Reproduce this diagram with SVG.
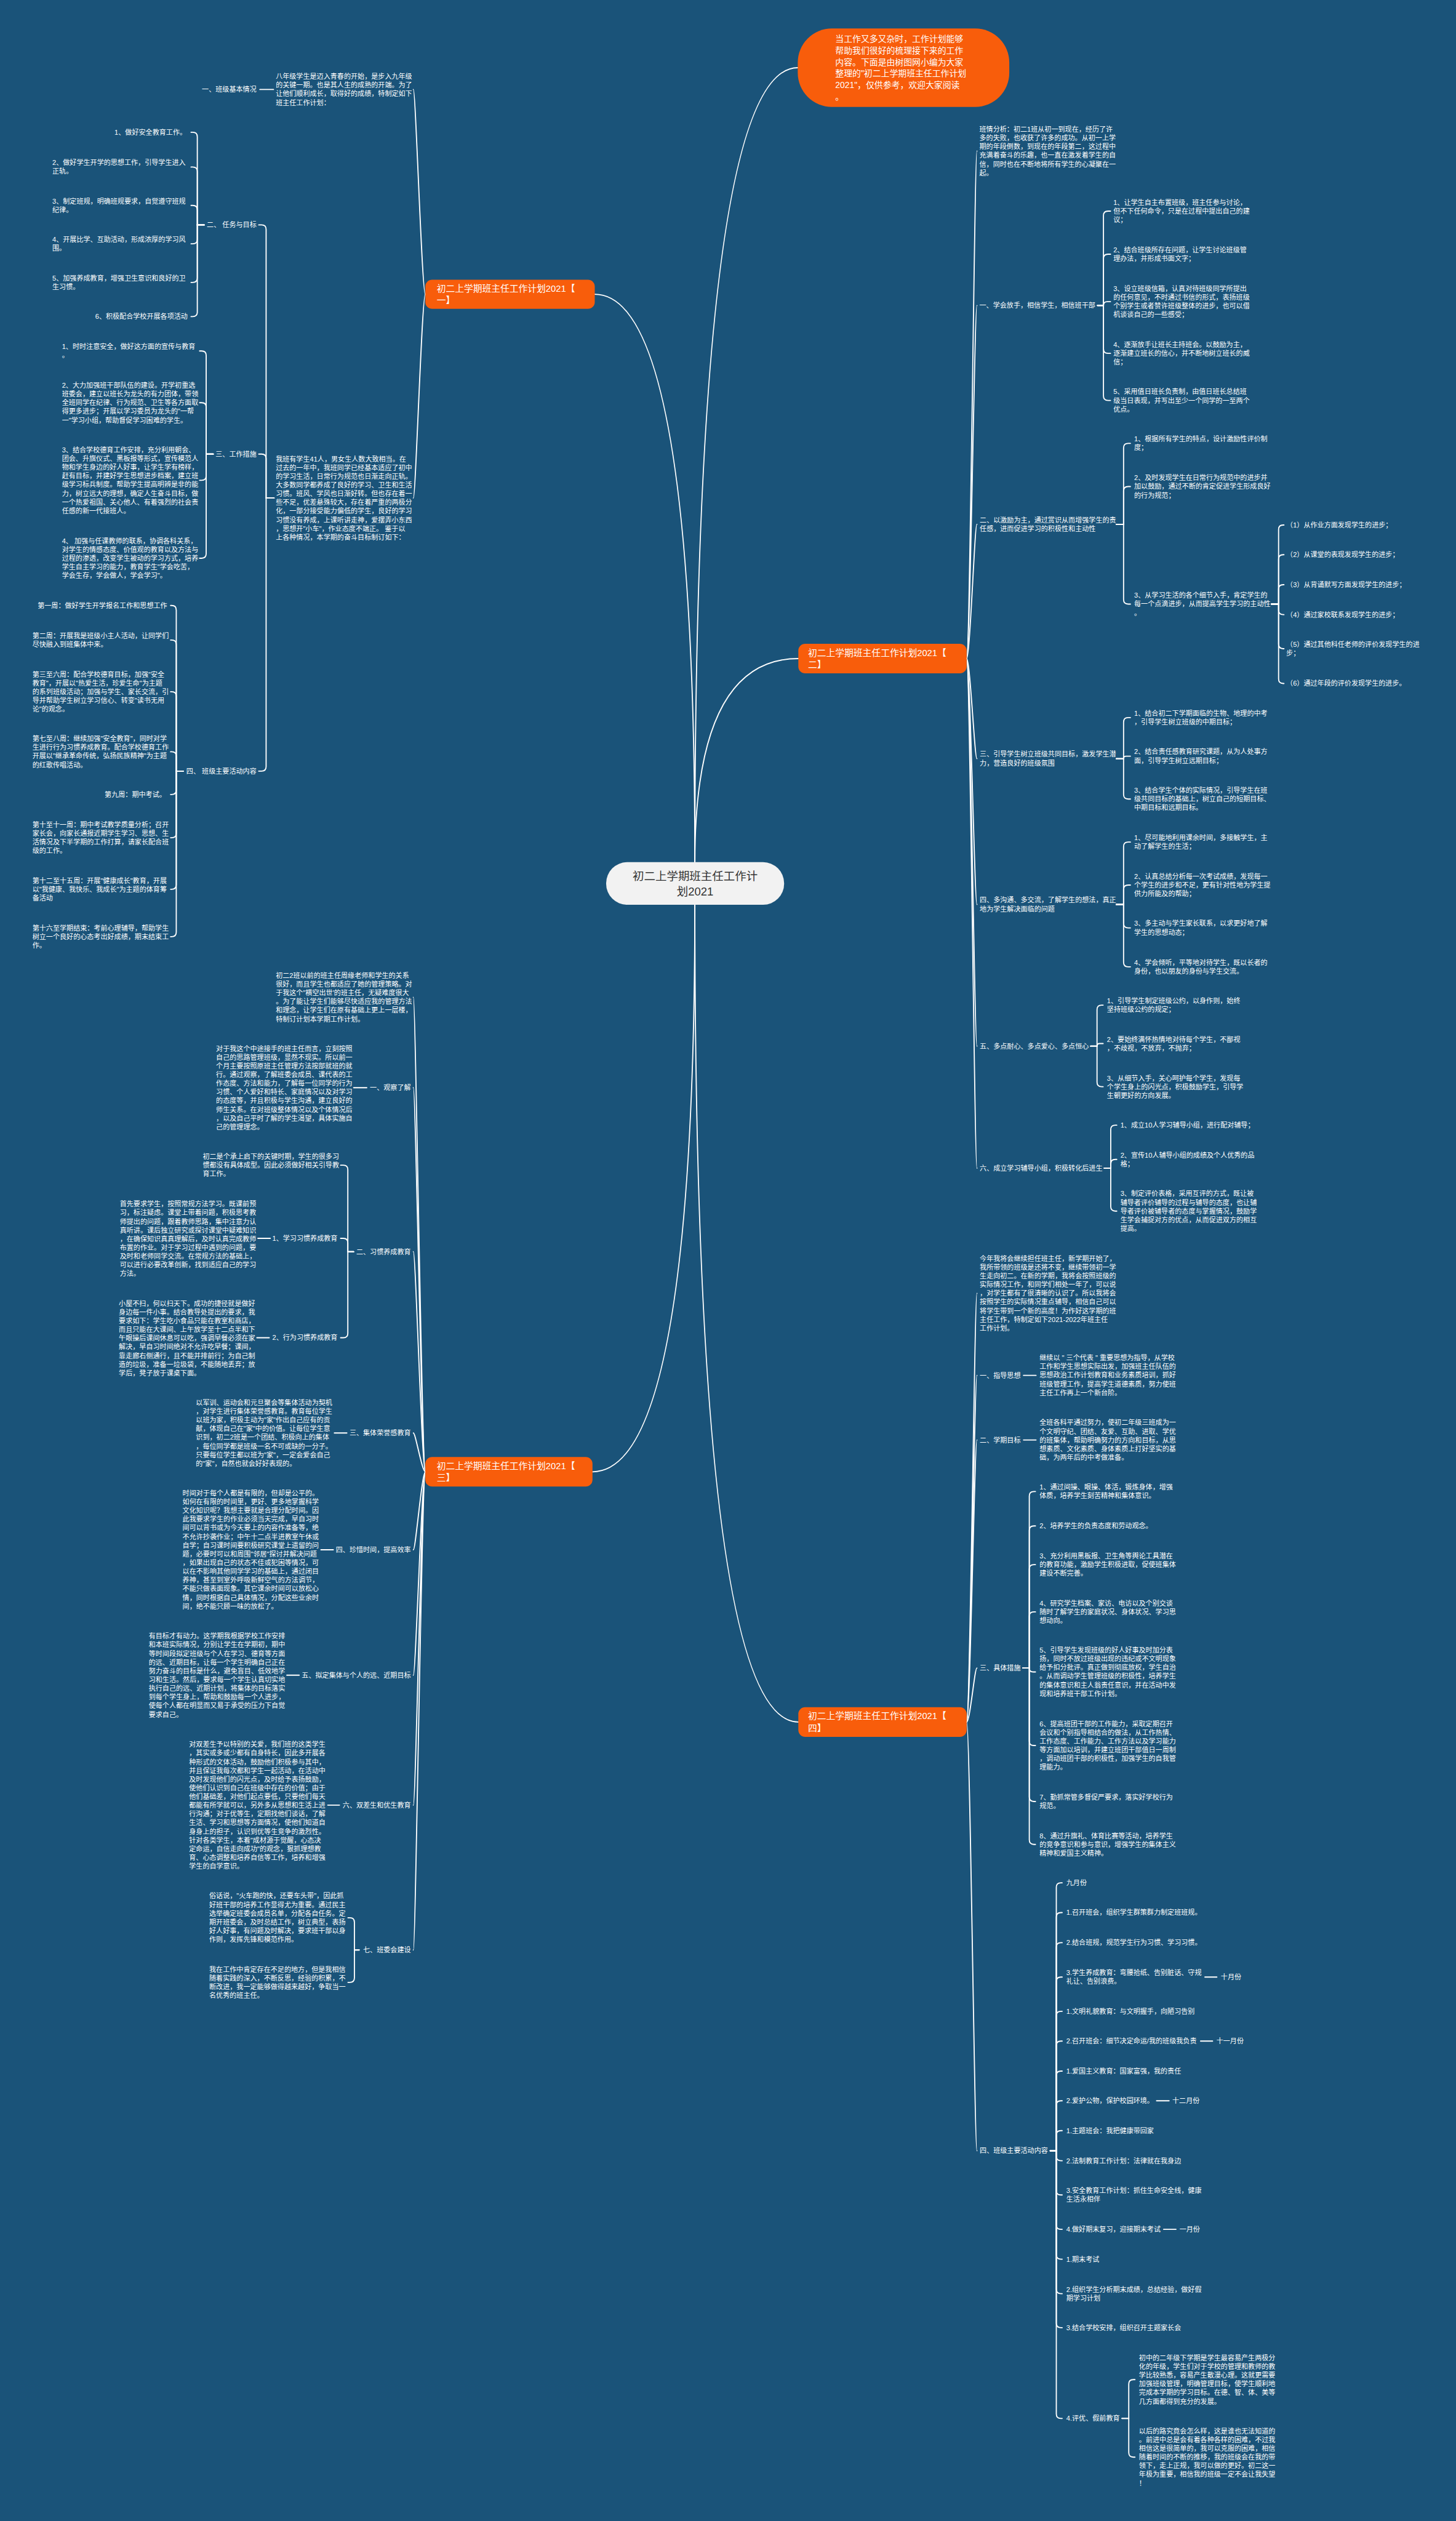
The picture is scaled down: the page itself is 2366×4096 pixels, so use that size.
<svg xmlns="http://www.w3.org/2000/svg" width="2366" height="4096" viewBox="0 0 2366 4096">
<style>
.t{font-family:"Liberation Sans","Noto Sans CJK SC",sans-serif;font-size:12px;fill:#fff}
.e{text-anchor:end}
.bn{font-size:16px}
.it{font-size:15px}
.cn{font-family:"Liberation Sans","Noto Sans CJK SC",sans-serif;font-size:20px;fill:#333;text-anchor:middle}
.l{fill:none;stroke:#fff;stroke-width:2;stroke-linecap:round}
.or{fill:#f85d0b}
</style>
<rect width="2366" height="4096" fill="#1a5379"/>
<g transform="scale(0.924)">
<g id="connectors">
<path class="l" d="M1222 1516Q1222 119 1403 119"/>
<path class="l" d="M1222 1516Q1222 517.5 1046 517.5"/>
<path class="l" d="M1222 1516Q1222 1158 1404 1158"/>
<path class="l" d="M1222 1591Q1222 2588 1042 2588"/>
<path class="l" d="M1222 1591Q1222 3028 1404 3028"/>
<!-- branch 1 -->
<path class="l" d="M748 517.5C742 517.5 731 157.4 727 157.4"/>
<path class="l" d="M748 517.5C742 517.5 731 875.7 727 875.7"/>
<path class="l" d="M481 157.4H457"/>
<path class="l" d="M482 875.7H468V403.5Q468 395.5 460 395.5H455"/>
<path class="l" d="M482 875.7H468V806.4Q468 798.4 460 798.4H455"/>
<path class="l" d="M482 875.7H468V1348Q468 1356 460 1356H455"/>
<path class="l" d="M359 395.5H347V240.6Q347 232.6 339 232.6H336"/>
<path class="l" d="M359 395.5H347V301.7Q347 293.7 339 293.7H336"/>
<path class="l" d="M359 395.5H347V369.2Q347 361.2 339 361.2H336"/>
<path class="l" d="M359 395.5H347V420.7Q347 428.7 339 428.7H336"/>
<path class="l" d="M359 395.5H347V488.7Q347 496.7 339 496.7H336"/>
<path class="l" d="M359 395.5H347V548.7Q347 556.7 339 556.7H336"/>
<path class="l" d="M375 798.4H362.6V625.2Q362.6 617.2 354.6 617.2H351"/>
<path class="l" d="M375 798.4H362.6V716.1Q362.6 708.1 354.6 708.1H351"/>
<path class="l" d="M375 798.4H362.6V836.6Q362.6 844.6 354.6 844.6H351"/>
<path class="l" d="M375 798.4H362.6V973.6Q362.6 981.6 354.6 981.6H351"/>
<path class="l" d="M322 1356H310V1072.7Q310 1064.7 302 1064.7H300"/>
<path class="l" d="M322 1356H310V1133.4Q310 1125.4 302 1125.4H300"/>
<path class="l" d="M322 1356H310V1224.3Q310 1216.3 302 1216.3H300"/>
<path class="l" d="M322 1356H310V1329.9Q310 1321.9 302 1321.9H300"/>
<path class="l" d="M322 1356H310V1389Q310 1397 302 1397H300"/>
<path class="l" d="M322 1356H310V1465Q310 1473 302 1473H300"/>
<path class="l" d="M322 1356H310V1555.7Q310 1563.7 302 1563.7H300"/>
<path class="l" d="M322 1356H310V1639.1Q310 1647.1 302 1647.1H300"/>
<!-- branch 3 -->
<path class="l" d="M748 2588C742 2588 731 1753.6 727 1753.6"/>
<path class="l" d="M748 2588C742 2588 731 1912.6 727 1912.6"/>
<path class="l" d="M748 2588C742 2588 731 2200.9 727 2200.9"/>
<path class="l" d="M748 2588C742 2588 731 2519.8 727 2519.8"/>
<path class="l" d="M748 2588C742 2588 731 2725.1 727 2725.1"/>
<path class="l" d="M748 2588C742 2588 731 2945.6 727 2945.6"/>
<path class="l" d="M748 2588C742 2588 731 3174.1 727 3174.1"/>
<path class="l" d="M748 2588C742 2588 731 3428.8 727 3428.8"/>
<path class="l" d="M645 1912.6H622"/>
<path class="l" d="M622 2200.9H611.7V2056.9Q611.7 2048.9 603.7 2048.9H599"/>
<path class="l" d="M622 2200.9H611.7V2185.5Q611.7 2177.5 603.7 2177.5H599"/>
<path class="l" d="M622 2200.9H611.7V2344.3Q611.7 2352.3 603.7 2352.3H599"/>
<path class="l" d="M475.4 2177.5H453.5"/>
<path class="l" d="M473.5 2352.3H451.7"/>
<path class="l" d="M610 2519.8H588"/>
<path class="l" d="M586.2 2725.1H564.4"/>
<path class="l" d="M526.2 2945.6H504.4"/>
<path class="l" d="M597 3174.1H576.4"/>
<path class="l" d="M631.7 3428.8H623.3V3380.2Q623.3 3372.2 615.3 3372.2H612"/>
<path class="l" d="M631.7 3428.8H623.3V3477.8Q623.3 3485.8 615.3 3485.8H612"/>
<!-- branch 2 -->
<path class="l" d="M1700 1158C1706 1158 1714 265.6 1718 265.6"/>
<path class="l" d="M1700 1158C1706 1158 1714 537.2 1718 537.2"/>
<path class="l" d="M1700 1158C1706 1158 1714 922 1718 922"/>
<path class="l" d="M1700 1158C1706 1158 1714 1334 1718 1334"/>
<path class="l" d="M1700 1158C1706 1158 1714 1590.4 1718 1590.4"/>
<path class="l" d="M1700 1158C1706 1158 1714 1839.5 1718 1839.5"/>
<path class="l" d="M1700 1158C1706 1158 1714 2054.1 1718 2054.1"/>
<path class="l" d="M1930 537.2H1940.6V379.2Q1940.6 371.2 1948.6 371.2H1953"/>
<path class="l" d="M1930 537.2H1940.6V455Q1940.6 447 1948.6 447H1953"/>
<path class="l" d="M1930 537.2H1940.6Q1940.6 530.4 1947.4 530.4H1953"/>
<path class="l" d="M1930 537.2H1940.6V613.4Q1940.6 621.4 1948.6 621.4H1953"/>
<path class="l" d="M1930 537.2H1940.6V696.1Q1940.6 704.1 1948.6 704.1H1953"/>
<path class="l" d="M1963 922H1976V787.6Q1976 779.6 1984 779.6H1988"/>
<path class="l" d="M1963 922H1976V863.5Q1976 855.5 1984 855.5H1988"/>
<path class="l" d="M1963 922H1976V1054.2Q1976 1062.2 1984 1062.2H1988"/>
<path class="l" d="M2236 1062.2H2248.6V931.2Q2248.6 923.2 2256.6 923.2H2258"/>
<path class="l" d="M2236 1062.2H2248.6V983.4Q2248.6 975.4 2256.6 975.4H2258"/>
<path class="l" d="M2236 1062.2H2248.6V1036.1Q2248.6 1028.1 2256.6 1028.1H2258"/>
<path class="l" d="M2236 1062.2H2248.6V1072.8Q2248.6 1080.8 2256.6 1080.8H2258"/>
<path class="l" d="M2236 1062.2H2248.6V1132.7Q2248.6 1140.7 2256.6 1140.7H2258"/>
<path class="l" d="M2236 1062.2H2248.6V1193.8Q2248.6 1201.8 2256.6 1201.8H2258"/>
<path class="l" d="M1963 1334H1976V1269.7Q1976 1261.7 1984 1261.7H1988"/>
<path class="l" d="M1963 1334H1976Q1976 1329.6 1980.4 1329.6H1988"/>
<path class="l" d="M1963 1334H1976V1397Q1976 1405 1984 1405H1988"/>
<path class="l" d="M1963 1590.4H1976V1488.7Q1976 1480.7 1984 1480.7H1988"/>
<path class="l" d="M1963 1590.4H1976V1564.3Q1976 1556.3 1984 1556.3H1988"/>
<path class="l" d="M1963 1590.4H1976V1623.6Q1976 1631.6 1984 1631.6H1988"/>
<path class="l" d="M1963 1590.4H1976V1692Q1976 1700 1984 1700H1988"/>
<path class="l" d="M1918 1839.5H1929.3V1775.4Q1929.3 1767.4 1937.3 1767.4H1940"/>
<path class="l" d="M1918 1839.5H1929.3Q1929.3 1835 1933.8 1835H1940"/>
<path class="l" d="M1918 1839.5H1929.3V1902.9Q1929.3 1910.9 1937.3 1910.9H1940"/>
<path class="l" d="M1942 2054.1H1953.4V1986.5Q1953.4 1978.5 1961.4 1978.5H1964"/>
<path class="l" d="M1942 2054.1H1953.4V2046.7Q1953.4 2038.7 1961.4 2038.7H1964"/>
<path class="l" d="M1942 2054.1H1953.4V2121.6Q1953.4 2129.6 1961.4 2129.6H1964"/>
<!-- branch 4 -->
<path class="l" d="M1700 3028C1706 3028 1714 2274.2 1718 2274.2"/>
<path class="l" d="M1700 3028C1706 3028 1714 2418.5 1718 2418.5"/>
<path class="l" d="M1700 3028C1706 3028 1714 2532 1718 2532"/>
<path class="l" d="M1700 3028C1706 3028 1714 2933.1 1718 2933.1"/>
<path class="l" d="M1700 3028C1706 3028 1714 3781.8 1718 3781.8"/>
<path class="l" d="M1800 2418.5H1822"/>
<path class="l" d="M1800 2532H1822"/>
<path class="l" d="M1799 2933.1H1810.2V2630.7Q1810.2 2622.7 1818.2 2622.7H1821"/>
<path class="l" d="M1799 2933.1H1810.2V2691.2Q1810.2 2683.2 1818.2 2683.2H1821"/>
<path class="l" d="M1799 2933.1H1810.2V2759.2Q1810.2 2751.2 1818.2 2751.2H1821"/>
<path class="l" d="M1799 2933.1H1810.2V2842.3Q1810.2 2834.3 1818.2 2834.3H1821"/>
<path class="l" d="M1799 2933.1H1810.2Q1810.2 2939.9 1817 2939.9H1821"/>
<path class="l" d="M1799 2933.1H1810.2V3061.3Q1810.2 3069.3 1818.2 3069.3H1821"/>
<path class="l" d="M1799 2933.1H1810.2V3159.7Q1810.2 3167.7 1818.2 3167.7H1821"/>
<path class="l" d="M1799 2933.1H1810.2V3235.2Q1810.2 3243.2 1818.2 3243.2H1821"/>
<path class="l" d="M1847 3781.8H1857.7V3318.7Q1857.7 3310.7 1865.7 3310.7H1868"/>
<path class="l" d="M1847 3781.8H1857.7V3371.1Q1857.7 3363.1 1865.7 3363.1H1868"/>
<path class="l" d="M1847 3781.8H1857.7V3424Q1857.7 3416 1865.7 3416H1868"/>
<path class="l" d="M1847 3781.8H1857.7V3484.5Q1857.7 3476.5 1865.7 3476.5H1868"/>
<path class="l" d="M1847 3781.8H1857.7V3544.6Q1857.7 3536.6 1865.7 3536.6H1868"/>
<path class="l" d="M1847 3781.8H1857.7V3597Q1857.7 3589 1865.7 3589H1868"/>
<path class="l" d="M1847 3781.8H1857.7V3649.8Q1857.7 3641.8 1865.7 3641.8H1868"/>
<path class="l" d="M1847 3781.8H1857.7V3702Q1857.7 3694 1865.7 3694H1868"/>
<path class="l" d="M1847 3781.8H1857.7V3754.5Q1857.7 3746.5 1865.7 3746.5H1868"/>
<path class="l" d="M1847 3781.8H1857.7V3791.4Q1857.7 3799.4 1865.7 3799.4H1868"/>
<path class="l" d="M1847 3781.8H1857.7V3851.6Q1857.7 3859.6 1865.7 3859.6H1868"/>
<path class="l" d="M1847 3781.8H1857.7V3912Q1857.7 3920 1865.7 3920H1868"/>
<path class="l" d="M1847 3781.8H1857.7V3964.5Q1857.7 3972.5 1865.7 3972.5H1868"/>
<path class="l" d="M1847 3781.8H1857.7V4025.2Q1857.7 4033.2 1865.7 4033.2H1868"/>
<path class="l" d="M1847 3781.8H1857.7V4085Q1857.7 4093 1865.7 4093H1868"/>
<path class="l" d="M1847 3781.8H1857.7V4244.5Q1857.7 4252.5 1865.7 4252.5H1868"/>
<path class="l" d="M2119 3476.5H2140"/>
<path class="l" d="M2111.4 3589H2132.5"/>
<path class="l" d="M2034 3694H2056"/>
<path class="l" d="M2046.4 3920H2068.2"/>
<path class="l" d="M1973 4252.5H1985.1V4192.3Q1985.1 4184.3 1993.1 4184.3H1996"/>
<path class="l" d="M1973 4252.5H1985.1V4312.6Q1985.1 4320.6 1993.1 4320.6H1996"/>
</g>

<g id="center">
<rect x="1066" y="1516" width="313" height="75" rx="37" fill="#f2f2f2"/>
<text class="cn" x="1222.5" y="1548">初二上学期班主任工作计</text>
<text class="cn" x="1222.5" y="1575">划2021</text>
</g>

<g id="intro">
<rect class="or" x="1403" y="50" width="372" height="138" rx="60"/>
<text class="t it" x="1469" y="73.8"><tspan x="1469">当工作又多又杂时，工作计划能够</tspan><tspan x="1469" dy="20.2">帮助我们很好的梳理接下来的工作</tspan><tspan x="1469" dy="20.2">内容。下面是由树图网小编为大家</tspan><tspan x="1469" dy="20.2">整理的"初二上学期班主任工作计划</tspan><tspan x="1469" dy="20.2">2021"，仅供参考，欢迎大家阅读</tspan><tspan x="1469" dy="20.2">。</tspan></text>
</g>

<!-- ===== Branch 1 ===== -->
<g id="b1">
<rect class="or" x="748" y="492" width="298" height="51" rx="12"/>
<text class="t bn" x="768" y="512.7"><tspan x="768">初二上学期班主任工作计划2021【</tspan><tspan x="768" dy="21">一】</tspan></text>
</g>
<g id="b1-a">
<text class="t" x="485" y="138.7"><tspan x="485">八年级学生是迈入青春的开始，是步入九年级</tspan><tspan x="485" dy="15.3">的关键一期。也是其人生的成熟的开端。为了</tspan><tspan x="485" dy="15.3">让他们顺利成长，取得好的成绩，特制定如下</tspan><tspan x="485" dy="15.3">班主任工作计划：</tspan></text>
</g>
<g id="b1-a1"><text class="t e" x="451" y="161.7">一、班级基本情况</text></g>
<g id="b1-b">
<text class="t" x="485" y="811.3"><tspan x="485">我班有学生41人，男女生人数大致相当。在</tspan><tspan x="485" dy="15.3">过去的一年中，我班同学已经基本适应了初中</tspan><tspan x="485" dy="15.3">的学习生活，日常行为规范也日渐走向正轨。</tspan><tspan x="485" dy="15.3">大多数同学都养成了良好的学习、卫生和生活</tspan><tspan x="485" dy="15.3">习惯。班风、学风也日渐好转。但也存在着一</tspan><tspan x="485" dy="15.3">些不足，优差悬殊较大，存在着严重的两极分</tspan><tspan x="485" dy="15.3">化，一部分接受能力偏低的学生，良好的学习</tspan><tspan x="485" dy="15.3">习惯没有养成，上课听讲走神，爱摆弄小东西</tspan><tspan x="485" dy="15.3">，思想开"小车"，作业态度不端正。 鉴于以</tspan><tspan x="485" dy="15.3">上各种情况，本学期的奋斗目标制订如下：</tspan></text>
</g>
<g id="b1-b1"><text class="t e" x="451" y="399.8">二、 任务与目标</text></g>
<g id="b1-b1-1"><text class="t e" x="328" y="236.9">1、做好安全教育工作。</text></g>
<g id="b1-b1-2"><text class="t" x="92" y="290.3"><tspan x="92">2、做好学生开学的思想工作，引导学生进入</tspan><tspan x="92" dy="15.3">正轨。</tspan></text></g>
<g id="b1-b1-3"><text class="t" x="92" y="357.8"><tspan x="92">3、制定班规，明确班规要求，自觉遵守班规</tspan><tspan x="92" dy="15.3">纪律。</tspan></text></g>
<g id="b1-b1-4"><text class="t" x="92" y="425.3"><tspan x="92">4、开展比学、互助活动，形成浓厚的学习风</tspan><tspan x="92" dy="15.3">围。</tspan></text></g>
<g id="b1-b1-5"><text class="t" x="92" y="493.3"><tspan x="92">5、加强养成教育，增强卫生意识和良好的卫</tspan><tspan x="92" dy="15.3">生习惯。</tspan></text></g>
<g id="b1-b1-6"><text class="t e" x="330" y="561">6、积极配合学校开展各项活动</text></g>
<g id="b1-b2"><text class="t e" x="451" y="802.7">三、工作措施</text></g>
<g id="b1-b2-1"><text class="t" x="109" y="613.8"><tspan x="109">1、时时注意安全，做好这方面的宣传与教育</tspan><tspan x="109" dy="15.3">。</tspan></text></g>
<g id="b1-b2-2"><text class="t" x="109" y="681.8"><tspan x="109">2、大力加强班干部队伍的建设。开学初重选</tspan><tspan x="109" dy="15.3">班委会，建立以班长为龙头的有力团体，带领</tspan><tspan x="109" dy="15.3">全班同学在纪律、行为规范、卫生等各方面取</tspan><tspan x="109" dy="15.3">得更多进步；开展以学习委员为龙头的"一帮</tspan><tspan x="109" dy="15.3">一"学习小组，帮助督促学习困难的学生。</tspan></text></g>
<g id="b1-b2-3"><text class="t" x="109" y="795.3"><tspan x="109">3、结合学校德育工作安排，充分利用朝会、</tspan><tspan x="109" dy="15.3">团会、升旗仪式、黑板报等形式，宣传模范人</tspan><tspan x="109" dy="15.3">物和学生身边的好人好事，让学生学有榜样，</tspan><tspan x="109" dy="15.3">赶有目标，并建好学生思想进步档案，建立班</tspan><tspan x="109" dy="15.3">级学习标兵制度。帮助学生提高明辨是非的能</tspan><tspan x="109" dy="15.3">力，树立远大的理想，确定人生奋斗目标，做</tspan><tspan x="109" dy="15.3">一个热爱祖国、关心他人、有着强烈的社会责</tspan><tspan x="109" dy="15.3">任感的新一代接班人。</tspan></text></g>
<g id="b1-b2-4"><text class="t" x="109" y="955.3"><tspan x="109">4、 加强与任课教师的联系，协调各科关系，</tspan><tspan x="109" dy="15.3">对学生的情感态度、价值观的教育以及方法与</tspan><tspan x="109" dy="15.3">过程的渗透，改变学生被动的学习方式，培养</tspan><tspan x="109" dy="15.3">学生自主学习的能力，教育学生"学会吃苦，</tspan><tspan x="109" dy="15.3">学会生存，学会做人，学会学习"。</tspan></text></g>
<g id="b1-b3"><text class="t e" x="451" y="1360.3">四、 班级主要活动内容</text></g>
<g id="b1-b3-1"><text class="t e" x="294" y="1069">第一周：做好学生开学报名工作和思想工作</text></g>
<g id="b1-b3-2"><text class="t" x="57" y="1122"><tspan x="57">第二周：开展我是班级小主人活动，让同学们</tspan><tspan x="57" dy="15.3">尽快融入到班集体中来。</tspan></text></g>
<g id="b1-b3-3"><text class="t" x="57" y="1190"><tspan x="57">第三至六周：配合学校德育目标，加强"安全</tspan><tspan x="57" dy="15.3">教育"，开展以"热爱生活，珍爱生命"为主题</tspan><tspan x="57" dy="15.3">的系列班级活动；加强与学生、家长交流，引</tspan><tspan x="57" dy="15.3">导并帮助学生树立学习信心、转变"读书无用</tspan><tspan x="57" dy="15.3">论"的观念。</tspan></text></g>
<g id="b1-b3-4"><text class="t" x="57" y="1303.2"><tspan x="57">第七至八周：继续加强"安全教育"，同时对学</tspan><tspan x="57" dy="15.3">生进行行为习惯养成教育。配合学校德育工作</tspan><tspan x="57" dy="15.3">开展以"继承革命传统，弘扬民族精神"为主题</tspan><tspan x="57" dy="15.3">的红歌传唱活动。</tspan></text></g>
<g id="b1-b3-5"><text class="t e" x="292" y="1401.3">第九周：期中考试。</text></g>
<g id="b1-b3-6"><text class="t" x="57" y="1454.3"><tspan x="57">第十至十一周：期中考试教学质量分析；召开</tspan><tspan x="57" dy="15.3">家长会，向家长通报近期学生学习、思想、生</tspan><tspan x="57" dy="15.3">活情况及下半学期的工作打算，请家长配合班</tspan><tspan x="57" dy="15.3">级的工作。</tspan></text></g>
<g id="b1-b3-7"><text class="t" x="57" y="1552.7"><tspan x="57">第十二至十五周：开展"健康成长"教育，开展</tspan><tspan x="57" dy="15.3">以"我健康、我快乐、我成长"为主题的体育筹</tspan><tspan x="57" dy="15.3">备活动</tspan></text></g>
<g id="b1-b3-8"><text class="t" x="57" y="1636.1"><tspan x="57">第十六至学期结束：考前心理辅导，帮助学生</tspan><tspan x="57" dy="15.3">树立一个良好的心态考出好成绩，期末结束工</tspan><tspan x="57" dy="15.3">作。</tspan></text></g>

<!-- ===== Branch 3 ===== -->
<g id="b3">
<rect class="or" x="748" y="2562" width="294" height="52" rx="12"/>
<text class="t bn" x="768" y="2583.2"><tspan x="768">初二上学期班主任工作计划2021【</tspan><tspan x="768" dy="21">三】</tspan></text>
</g>
<g id="b3-1"><text class="t" x="485" y="1719.6"><tspan x="485">初二2班以前的班主任周缘老师和学生的关系</tspan><tspan x="485" dy="15.3">很好，而且学生也都适应了她的管理策略。对</tspan><tspan x="485" dy="15.3">于我这个"横空出世'的班主任，无疑难度很大</tspan><tspan x="485" dy="15.3">。为了能让学生们能够尽快适应我的管理方法</tspan><tspan x="485" dy="15.3">和理念，让学生们在原有基础上更上一层楼，</tspan><tspan x="485" dy="15.3">特制订计划本学期工作计划。</tspan></text></g>
<g id="b3-2"><text class="t e" x="722.5" y="1916.9">一、观察了解</text></g>
<g id="b3-2-1"><text class="t" x="380" y="1848"><tspan x="380">对于我这个中途接手的班主任而言，立刻按照</tspan><tspan x="380" dy="15.3">自己的思路管理班级，显然不现实。所以前一</tspan><tspan x="380" dy="15.3">个月主要按照原班主任管理方法按部就班的就</tspan><tspan x="380" dy="15.3">行。通过观察，了解班委会成员、课代表的工</tspan><tspan x="380" dy="15.3">作态度、方法和能力，了解每一位同学的行为</tspan><tspan x="380" dy="15.3">习惯、个人爱好和特长、家庭情况以及对学习</tspan><tspan x="380" dy="15.3">的态度等，并且积极与学生沟通，建立良好的</tspan><tspan x="380" dy="15.3">师生关系。在对班级整体情况以及个体情况后</tspan><tspan x="380" dy="15.3">，以及自己平时了解的学生渴望，具体实施自</tspan><tspan x="380" dy="15.3">己的管理理念。</tspan></text></g>
<g id="b3-3"><text class="t e" x="722.5" y="2205.2">二、习惯养成教育</text></g>
<g id="b3-3-1"><text class="t" x="356.5" y="2037.9"><tspan x="356.5">初二是个承上启下的关键时期，学生的很多习</tspan><tspan x="356.5" dy="15.3">惯都没有具体成型。因此必须做好相关引导教</tspan><tspan x="356.5" dy="15.3">育工作。</tspan></text></g>
<g id="b3-3-2"><text class="t e" x="593.5" y="2181.8">1、学习习惯养成教育</text></g>
<g id="b3-3-2-1"><text class="t" x="210.7" y="2121.5"><tspan x="210.7">首先要求学生，按照常规方法学习。既课前预</tspan><tspan x="210.7" dy="15.3">习，标注疑虑。课堂上带着问题，积极思考教</tspan><tspan x="210.7" dy="15.3">师提出的问题，跟着教师思路，集中注意力认</tspan><tspan x="210.7" dy="15.3">真听讲。课后独立研究或探讨课堂中疑难知识</tspan><tspan x="210.7" dy="15.3">，在确保知识真真理解后，及时认真完成教师</tspan><tspan x="210.7" dy="15.3">布置的作业。对于学习过程中遇到的问题，要</tspan><tspan x="210.7" dy="15.3">及时和老师同学交流。在常规方法的基础上，</tspan><tspan x="210.7" dy="15.3">可以进行必要改革创新，找到适应自己的学习</tspan><tspan x="210.7" dy="15.3">方法。</tspan></text></g>
<g id="b3-3-3"><text class="t e" x="593.5" y="2356.6">2、行为习惯养成教育</text></g>
<g id="b3-3-3-1"><text class="t" x="209" y="2296.2"><tspan x="209">小屋不扫，何以扫天下。成功的捷径就是做好</tspan><tspan x="209" dy="15.3">身边每一件小事。结合教导处提出的要求，我</tspan><tspan x="209" dy="15.3">要求如下：学生吃小食品只能在教室和商店，</tspan><tspan x="209" dy="15.3">而且只能在大课间、上午放学至十二点半和下</tspan><tspan x="209" dy="15.3">午眼操后课间休息可以吃，强调早餐必须在家</tspan><tspan x="209" dy="15.3">解决，早自习时间绝对不允许吃早餐；课间，</tspan><tspan x="209" dy="15.3">靠走廊右侧通行，且不能并排前行；为自己制</tspan><tspan x="209" dy="15.3">造的垃圾，准备一垃圾袋，不能随地丢弃；放</tspan><tspan x="209" dy="15.3">学后，凳子放于课桌下面。</tspan></text></g>
<g id="b3-4"><text class="t e" x="722.5" y="2524.1">三、集体荣誉感教育</text></g>
<g id="b3-4-1"><text class="t" x="344.5" y="2470.7"><tspan x="344.5">以军训、运动会和元旦聚会等集体活动为契机</tspan><tspan x="344.5" dy="15.3">，对学生进行集体荣誉感教育。教育每位学生</tspan><tspan x="344.5" dy="15.3">以班为家，积极主动为"家"作出自己应有的贡</tspan><tspan x="344.5" dy="15.3">献，体现自己在"家"中的价值。让每位学生意</tspan><tspan x="344.5" dy="15.3">识到，初二2班是一个团结、积极向上的集体</tspan><tspan x="344.5" dy="15.3">，每位同学都是班级一名不可或缺的一分子。</tspan><tspan x="344.5" dy="15.3">只要每位学生都以班为"家"，一定会爱会自己</tspan><tspan x="344.5" dy="15.3">的"家"，自然也就会好好表现的。</tspan></text></g>
<g id="b3-5"><text class="t e" x="722.5" y="2729.4">四、珍惜时间，提高效率</text></g>
<g id="b3-5-1"><text class="t" x="321" y="2629.8"><tspan x="321">时间对于每个人都是有限的，但却是公平的。</tspan><tspan x="321" dy="15.3">如何在有限的时间里，更好、更多地掌握科学</tspan><tspan x="321" dy="15.3">文化知识呢？我想主要就是合理分配时间。因</tspan><tspan x="321" dy="15.3">此我要求学生的作业必须当天完成，早自习时</tspan><tspan x="321" dy="15.3">间可以背书或为今天要上的内容作准备等，绝</tspan><tspan x="321" dy="15.3">不允许抄袭作业；中午十二点半进教室午休或</tspan><tspan x="321" dy="15.3">自学；自习课时间要积极研究课堂上遗留的问</tspan><tspan x="321" dy="15.3">题，必要时可以和周围"邻居"探讨并解决问题</tspan><tspan x="321" dy="15.3">，如果出现自己的状态不佳或犯困等情况，可</tspan><tspan x="321" dy="15.3">以在不影响其他同学学习的基础上，通过闭目</tspan><tspan x="321" dy="15.3">养神，甚至到室外呼吸新鲜空气的方法调节，</tspan><tspan x="321" dy="15.3">不能只做表面现象。其它课余时间可以放松心</tspan><tspan x="321" dy="15.3">情，同时根据自己具体情况，分配这些业余时</tspan><tspan x="321" dy="15.3">间，绝不能只顾一味的放松了。</tspan></text></g>
<g id="b3-6"><text class="t e" x="722.5" y="2949.9">五、拟定集体与个人的远、近期目标</text></g>
<g id="b3-6-1"><text class="t" x="261.6" y="2881.3"><tspan x="261.6">有目标才有动力。这学期我根据学校工作安排</tspan><tspan x="261.6" dy="15.3">和本班实际情况，分别让学生在学期初，期中</tspan><tspan x="261.6" dy="15.3">等时间段拟定班级与个人在学习、德育等方面</tspan><tspan x="261.6" dy="15.3">的远、近期目标，让每一个学生明确自己正在</tspan><tspan x="261.6" dy="15.3">努力奋斗的目标是什么，避免盲目、低效地学</tspan><tspan x="261.6" dy="15.3">习和生活。然后，要求每一个学生认真切实地</tspan><tspan x="261.6" dy="15.3">执行自己的远、近期计划，将集体的目标落实</tspan><tspan x="261.6" dy="15.3">到每个学生身上，帮助和鼓励每一个人进步，</tspan><tspan x="261.6" dy="15.3">使每个人都在明显而又易于承受的压力下自觉</tspan><tspan x="261.6" dy="15.3">要求自己。</tspan></text></g>
<g id="b3-7"><text class="t e" x="722.5" y="3178.4">六、双差生和优生教育</text></g>
<g id="b3-7-1"><text class="t" x="332.5" y="3071.7"><tspan x="332.5">对双差生予以特别的关爱，我们班的这类学生</tspan><tspan x="332.5" dy="15.3">，其实或多或少都有自身特长，因此多开展各</tspan><tspan x="332.5" dy="15.3">种形式的文体活动，鼓励他们积极参与其中，</tspan><tspan x="332.5" dy="15.3">并且保证我每次都和学生一起活动，在活动中</tspan><tspan x="332.5" dy="15.3">及时发现他们的闪光点，及时给予表扬鼓励，</tspan><tspan x="332.5" dy="15.3">使他们认识到自己在班级中存在的价值；由于</tspan><tspan x="332.5" dy="15.3">他们基础差，对他们起点要低，只要他们每天</tspan><tspan x="332.5" dy="15.3">都能有所学就可以，另外多从思想和生活上进</tspan><tspan x="332.5" dy="15.3">行沟通；对于优等生，定期找他们谈话，了解</tspan><tspan x="332.5" dy="15.3">生活、学习和思想等方面情况，使他们知道自</tspan><tspan x="332.5" dy="15.3">身身上的担子，认识到优等生竞争的激烈性。</tspan><tspan x="332.5" dy="15.3">针对各类学生，本着"成材源于觉醒，心态决</tspan><tspan x="332.5" dy="15.3">定命运，自信走向成功"的观念，狠抓理想教</tspan><tspan x="332.5" dy="15.3">育、心态调整和培养自信等工作，培养和增强</tspan><tspan x="332.5" dy="15.3">学生的自学意识。</tspan></text></g>
<g id="b3-8"><text class="t e" x="722.5" y="3433.1">七、班委会建设</text></g>
<g id="b3-8-1"><text class="t" x="368" y="3338.2"><tspan x="368">俗话说，"火车跑的快，还要车头带"，因此抓</tspan><tspan x="368" dy="15.3">好班干部的培养工作显得尤为重要。通过民主</tspan><tspan x="368" dy="15.3">选举确定班委会成员名单，分配各自任务。定</tspan><tspan x="368" dy="15.3">期开班委会，及时总结工作，树立典型，表扬</tspan><tspan x="368" dy="15.3">好人好事，有问题及时解决，要求班干部以身</tspan><tspan x="368" dy="15.3">作则，发挥先锋和模范作用。</tspan></text></g>
<g id="b3-8-2"><text class="t" x="368" y="3467.1"><tspan x="368">我在工作中肯定存在不足的地方，但是我相信</tspan><tspan x="368" dy="15.3">随着实践的深入，不断反思，经验的积累，不</tspan><tspan x="368" dy="15.3">断改进，我一定能够做得越来越好，争取当一</tspan><tspan x="368" dy="15.3">名优秀的班主任。</tspan></text></g>

<!-- ===== Branch 2 ===== -->
<g id="b2">
<rect class="or" x="1404" y="1132" width="296" height="52" rx="12"/>
<text class="t bn" x="1421" y="1153.2"><tspan x="1421">初二上学期班主任工作计划2021【</tspan><tspan x="1421" dy="21">二】</tspan></text>
</g>
<g id="b2-1"><text class="t" x="1722.4" y="231.6"><tspan x="1722.4">班情分析：初二1班从初一到现在，经历了许</tspan><tspan x="1722.4" dy="15.3">多的失败，也收获了许多的成功。从初一上学</tspan><tspan x="1722.4" dy="15.3">期的年段倒数，到现在的年段第二，这过程中</tspan><tspan x="1722.4" dy="15.3">充满着奋斗的乐趣，也一直在激发着学生的自</tspan><tspan x="1722.4" dy="15.3">信，同时也在不断地将所有学生的心凝聚在一</tspan><tspan x="1722.4" dy="15.3">起。</tspan></text></g>
<g id="b2-2"><text class="t" x="1722.4" y="541.5">一、学会放手，相信学生，相信班干部</text></g>
<g id="b2-2-1"><text class="t" x="1958" y="360.2"><tspan x="1958">1、让学生自主布置班级，班主任参与讨论，</tspan><tspan x="1958" dy="15.3">但不下任何命令，只是在过程中提出自己的建</tspan><tspan x="1958" dy="15.3">议；</tspan></text></g>
<g id="b2-2-2"><text class="t" x="1958" y="443.7"><tspan x="1958">2、结合班级所存在问题，让学生讨论班级管</tspan><tspan x="1958" dy="15.3">理办法，并形成书面文字；</tspan></text></g>
<g id="b2-2-3"><text class="t" x="1958" y="511.7"><tspan x="1958">3、设立班级信箱，认真对待班级同学所提出</tspan><tspan x="1958" dy="15.3">的任何意见，不时通过书信的形式，表扬班级</tspan><tspan x="1958" dy="15.3">个别学生或者赞许班级整体的进步，也可以借</tspan><tspan x="1958" dy="15.3">机谈谈自己的一些感受；</tspan></text></g>
<g id="b2-2-4"><text class="t" x="1958" y="610.4"><tspan x="1958">4、逐渐放手让班长主持班会。以鼓励为主，</tspan><tspan x="1958" dy="15.3">逐渐建立班长的信心，并不断地树立班长的威</tspan><tspan x="1958" dy="15.3">信；</tspan></text></g>
<g id="b2-2-5"><text class="t" x="1958" y="693.1"><tspan x="1958">5、采用值日班长负责制，由值日班长总结班</tspan><tspan x="1958" dy="15.3">级当日表现，并写出至少一个同学的一至两个</tspan><tspan x="1958" dy="15.3">优点。</tspan></text></g>
<g id="b2-3"><text class="t" x="1723" y="918.6"><tspan x="1723">二、以激励为主，通过赏识从而增强学生的责</tspan><tspan x="1723" dy="15.3">任感，进而促进学习的积极性和主动性</tspan></text></g>
<g id="b2-3-1"><text class="t" x="1994.6" y="776.2"><tspan x="1994.6">1、根据所有学生的特点，设计激励性评价制</tspan><tspan x="1994.6" dy="15.3">度；</tspan></text></g>
<g id="b2-3-2"><text class="t" x="1994.6" y="844.5"><tspan x="1994.6">2、及时发现学生在日常行为规范中的进步并</tspan><tspan x="1994.6" dy="15.3">加以鼓励，通过不断的肯定促进学生形成良好</tspan><tspan x="1994.6" dy="15.3">的行为规范；</tspan></text></g>
<g id="b2-3-3"><text class="t" x="1994.6" y="1051.2"><tspan x="1994.6">3、从学习生活的各个细节入手，肯定学生的</tspan><tspan x="1994.6" dy="15.3">每一个点滴进步，从而提高学生学习的主动性</tspan><tspan x="1994.6" dy="15.3">。</tspan></text></g>
<g id="b2-3-3-1"><text class="t" x="2262" y="927.5">（1）从作业方面发现学生的进步；</text></g>
<g id="b2-3-3-2"><text class="t" x="2262" y="979.7">（2）从课堂的表现发现学生的进步；</text></g>
<g id="b2-3-3-3"><text class="t" x="2262" y="1032.4">（3）从背诵默写方面发现学生的进步；</text></g>
<g id="b2-3-3-4"><text class="t" x="2262" y="1085.1">（4）通过家校联系发现学生的进步；</text></g>
<g id="b2-3-3-5"><text class="t" x="2262" y="1137.3"><tspan x="2262">（5）通过其他科任老师的评价发现学生的进</tspan><tspan x="2262" dy="15.3">步；</tspan></text></g>
<g id="b2-3-3-6"><text class="t" x="2262" y="1206.1">（6）通过年段的评价发现学生的进步。</text></g>
<g id="b2-4"><text class="t" x="1723" y="1330.6"><tspan x="1723">三、引导学生树立班级共同目标，激发学生潜</tspan><tspan x="1723" dy="15.3">力，营造良好的班级氛围</tspan></text></g>
<g id="b2-4-1"><text class="t" x="1994.6" y="1258.3"><tspan x="1994.6">1、结合初二下学期面临的生物、地理的中考</tspan><tspan x="1994.6" dy="15.3">，引导学生树立班级的中期目标；</tspan></text></g>
<g id="b2-4-2"><text class="t" x="1994.6" y="1326.2"><tspan x="1994.6">2、结合责任感教育研究课题，从为人处事方</tspan><tspan x="1994.6" dy="15.3">面，引导学生树立远期目标；</tspan></text></g>
<g id="b2-4-3"><text class="t" x="1994.6" y="1394"><tspan x="1994.6">3、结合学生个体的实际情况，引导学生在班</tspan><tspan x="1994.6" dy="15.3">级共同目标的基础上，树立自己的短期目标、</tspan><tspan x="1994.6" dy="15.3">中期目标和远期目标。</tspan></text></g>
<g id="b2-5"><text class="t" x="1723" y="1587"><tspan x="1723">四、多沟通、多交流，了解学生的想法，真正</tspan><tspan x="1723" dy="15.3">地为学生解决面临的问题</tspan></text></g>
<g id="b2-5-1"><text class="t" x="1994.6" y="1477.3"><tspan x="1994.6">1、尽可能地利用课余时间，多接触学生，主</tspan><tspan x="1994.6" dy="15.3">动了解学生的生活；</tspan></text></g>
<g id="b2-5-2"><text class="t" x="1994.6" y="1545.3"><tspan x="1994.6">2、认真总结分析每一次考试成绩，发现每一</tspan><tspan x="1994.6" dy="15.3">个学生的进步和不足，更有针对性地为学生提</tspan><tspan x="1994.6" dy="15.3">供力所能及的帮助；</tspan></text></g>
<g id="b2-5-3"><text class="t" x="1994.6" y="1628.2"><tspan x="1994.6">3、多主动与学生家长联系，以求更好地了解</tspan><tspan x="1994.6" dy="15.3">学生的思想动态；</tspan></text></g>
<g id="b2-5-4"><text class="t" x="1994.6" y="1696.6"><tspan x="1994.6">4、学会倾听，平等地对待学生，既以长者的</tspan><tspan x="1994.6" dy="15.3">身份，也以朋友的身份与学生交流。</tspan></text></g>
<g id="b2-6"><text class="t" x="1723" y="1843.8">五、多点耐心、多点爱心、多点恒心</text></g>
<g id="b2-6-1"><text class="t" x="1946.8" y="1764"><tspan x="1946.8">1、引导学生制定班级公约，以身作则，始终</tspan><tspan x="1946.8" dy="15.3">坚持班级公约的规定；</tspan></text></g>
<g id="b2-6-2"><text class="t" x="1946.8" y="1832"><tspan x="1946.8">2、要始终满怀热情地对待每个学生，不鄙视</tspan><tspan x="1946.8" dy="15.3">，不歧视，不放弃，不抛弃；</tspan></text></g>
<g id="b2-6-3"><text class="t" x="1946.8" y="1899.9"><tspan x="1946.8">3、从细节入手，关心呵护每个学生，发现每</tspan><tspan x="1946.8" dy="15.3">个学生身上的闪光点，积极鼓励学生，引导学</tspan><tspan x="1946.8" dy="15.3">生朝更好的方向发展。</tspan></text></g>
<g id="b2-7"><text class="t" x="1723" y="2058.4">六、成立学习辅导小组，积极转化后进生</text></g>
<g id="b2-7-1"><text class="t" x="1970.4" y="1982.8">1、成立10人学习辅导小组，进行配对辅导；</text></g>
<g id="b2-7-2"><text class="t" x="1970.4" y="2035.3"><tspan x="1970.4">2、宣传10人辅导小组的成绩及个人优秀的品</tspan><tspan x="1970.4" dy="15.3">格；</tspan></text></g>
<g id="b2-7-3"><text class="t" x="1970.4" y="2103.3"><tspan x="1970.4">3、制定评价表格，采用互评的方式，既让被</tspan><tspan x="1970.4" dy="15.3">辅导者评价辅导的过程与辅导的态度，也让辅</tspan><tspan x="1970.4" dy="15.3">导者评价被辅导者的态度与掌握情况，鼓励学</tspan><tspan x="1970.4" dy="15.3">生学会捕捉对方的优点，从而促进双方的相互</tspan><tspan x="1970.4" dy="15.3">提高。</tspan></text></g>

<!-- ===== Branch 4 ===== -->
<g id="b4">
<rect class="or" x="1404" y="3002" width="296" height="52" rx="12"/>
<text class="t bn" x="1421" y="3023.2"><tspan x="1421">初二上学期班主任工作计划2021【</tspan><tspan x="1421" dy="21">四】</tspan></text>
</g>
<g id="b4-1"><text class="t" x="1723" y="2217.3"><tspan x="1723">今年我将会继续担任班主任，新学期开始了，</tspan><tspan x="1723" dy="15.3">我所带领的班级是还将不变，继续带领初一学</tspan><tspan x="1723" dy="15.3">生走向初二。在新的学期，我将会按照班级的</tspan><tspan x="1723" dy="15.3">实际情况工作，和同学们相处一年了，可以说</tspan><tspan x="1723" dy="15.3">，对学生都有了很清晰的认识了。所以我将会</tspan><tspan x="1723" dy="15.3">按照学生的实际情况重点辅导，相信自己可以</tspan><tspan x="1723" dy="15.3">将学生带到一个新的高度！为作好这学期的班</tspan><tspan x="1723" dy="15.3">主任工作，特制定如下2021-2022年班主任</tspan><tspan x="1723" dy="15.3">工作计划。</tspan></text></g>
<g id="b4-2"><text class="t" x="1723" y="2422.8">一、指导思想</text></g>
<g id="b4-2-1"><text class="t" x="1828.2" y="2392"><tspan x="1828.2">继续以 " 三个代表 " 重要思想为指导，从学校</tspan><tspan x="1828.2" dy="15.3">工作和学生思想实际出发，加强班主任队伍的</tspan><tspan x="1828.2" dy="15.3">思想政治工作计划教育和业务素质培训，抓好</tspan><tspan x="1828.2" dy="15.3">班级管理工作，提高学生道德素质，努力使班</tspan><tspan x="1828.2" dy="15.3">主任工作再上一个新台阶。</tspan></text></g>
<g id="b4-3"><text class="t" x="1723" y="2536.3">二、学期目标</text></g>
<g id="b4-3-1"><text class="t" x="1828.2" y="2505.9"><tspan x="1828.2">全班各科平通过努力，使初二年级三班成为一</tspan><tspan x="1828.2" dy="15.3">个文明守纪、团结、友爱、互助、进取、学优</tspan><tspan x="1828.2" dy="15.3">的班集体，帮助明确努力的方向和目标，从思</tspan><tspan x="1828.2" dy="15.3">想素质、文化素质、身体素质上打好坚实的基</tspan><tspan x="1828.2" dy="15.3">础，为两年后的中考做准备。</tspan></text></g>
<g id="b4-4"><text class="t" x="1723" y="2937.4">三、具体措施</text></g>
<g id="b4-4-1"><text class="t" x="1828.2" y="2619.3"><tspan x="1828.2">1、通过间操、眼操、体活，锻炼身体，增强</tspan><tspan x="1828.2" dy="15.3">体质，培养学生刻苦精神和集体意识。</tspan></text></g>
<g id="b4-4-2"><text class="t" x="1828.2" y="2687.5">2、培养学生的负责态度和劳动观念。</text></g>
<g id="b4-4-3"><text class="t" x="1828.2" y="2740.2"><tspan x="1828.2">3、充分利用黑板报、卫生角等舆论工具潜在</tspan><tspan x="1828.2" dy="15.3">的教育功能，激励学生积极进取，促使班集体</tspan><tspan x="1828.2" dy="15.3">建设不断完善。</tspan></text></g>
<g id="b4-4-4"><text class="t" x="1828.2" y="2823.3"><tspan x="1828.2">4、研究学生档案、家访、电访以及个别交谈</tspan><tspan x="1828.2" dy="15.3">随时了解学生的家庭状况、身体状况、学习思</tspan><tspan x="1828.2" dy="15.3">想动向。</tspan></text></g>
<g id="b4-4-5"><text class="t" x="1828.2" y="2905.9"><tspan x="1828.2">5、引导学生发现班级的好人好事及时加分表</tspan><tspan x="1828.2" dy="15.3">扬，同时不放过班级出现的违纪或不文明现象</tspan><tspan x="1828.2" dy="15.3">给予扣分批评。真正做到彻底放权，学生自治</tspan><tspan x="1828.2" dy="15.3">。从而调动学生管理班级的积极性，培养学生</tspan><tspan x="1828.2" dy="15.3">的集体意识和主人翁责任意识，并在活动中发</tspan><tspan x="1828.2" dy="15.3">现和培养班干部工作计划。</tspan></text></g>
<g id="b4-4-6"><text class="t" x="1828.2" y="3035.3"><tspan x="1828.2">6、提高班团干部的工作能力，采取定期召开</tspan><tspan x="1828.2" dy="15.3">会议和个别指导相结合的做法，从工作热情、</tspan><tspan x="1828.2" dy="15.3">工作态度、工作能力、工作方法以及学习能力</tspan><tspan x="1828.2" dy="15.3">等方面加以培训，并建立班团干部值日一周制</tspan><tspan x="1828.2" dy="15.3">，调动班团干部的积极性，加强学生的自我管</tspan><tspan x="1828.2" dy="15.3">理能力。</tspan></text></g>
<g id="b4-4-7"><text class="t" x="1828.2" y="3164.3"><tspan x="1828.2">7、勤抓常管多督促严要求，落实好学校行为</tspan><tspan x="1828.2" dy="15.3">规范。</tspan></text></g>
<g id="b4-4-8"><text class="t" x="1828.2" y="3232.2"><tspan x="1828.2">8、通过升旗礼、体育比赛等活动，培养学生</tspan><tspan x="1828.2" dy="15.3">的竞争意识和参与意识，增强学生的集体主义</tspan><tspan x="1828.2" dy="15.3">精神和爱国主义精神。</tspan></text></g>
<g id="b4-5"><text class="t" x="1723" y="3786.1">四、班级主要活动内容</text></g>
<g id="b4-5-1"><text class="t" x="1875.3" y="3315">九月份</text></g>
<g id="b4-5-2"><text class="t" x="1875.3" y="3367.4">1.召开班会，组织学生群策群力制定班班规。</text></g>
<g id="b4-5-3"><text class="t" x="1875.3" y="3420.3">2.结合班规，规范学生行为习惯、学习习惯。</text></g>
<g id="b4-5-4"><text class="t" x="1875.3" y="3473.1"><tspan x="1875.3">3.学生养成教育：弯腰拾纸、告别脏话、守规</tspan><tspan x="1875.3" dy="15.3">礼让、告别浪费。</tspan></text></g>
<g id="b4-5-4-1"><text class="t" x="2147" y="3480.8">十月份</text></g>
<g id="b4-5-5"><text class="t" x="1875.3" y="3540.9">1.文明礼貌教育：与文明握手，向陋习告别</text></g>
<g id="b4-5-6"><text class="t" x="1875.3" y="3593.3">2.召开班会：细节决定命运/我的班级我负责</text></g>
<g id="b4-5-6-1"><text class="t" x="2139.3" y="3593.3">十一月份</text></g>
<g id="b4-5-7"><text class="t" x="1875.3" y="3646.1">1.爱国主义教育：国家富强，我的责任</text></g>
<g id="b4-5-8"><text class="t" x="1875.3" y="3698.3">2.爱护公物，保护校园环境。</text></g>
<g id="b4-5-8-1"><text class="t" x="2061.7" y="3698.3">十二月份</text></g>
<g id="b4-5-9"><text class="t" x="1875.3" y="3750.8">1.主题班会：我把健康带回家</text></g>
<g id="b4-5-10"><text class="t" x="1875.3" y="3803.7">2.法制教育工作计划：法律就在我身边</text></g>
<g id="b4-5-11"><text class="t" x="1875.3" y="3856.2"><tspan x="1875.3">3.安全教育工作计划：抓住生命安全线，健康</tspan><tspan x="1875.3" dy="15.3">生活永相伴</tspan></text></g>
<g id="b4-5-12"><text class="t" x="1875.3" y="3924.3">4.做好期末复习，迎接期末考试</text></g>
<g id="b4-5-12-1"><text class="t" x="2074.3" y="3924.3">一月份</text></g>
<g id="b4-5-13"><text class="t" x="1875.3" y="3976.8">1.期末考试</text></g>
<g id="b4-5-14"><text class="t" x="1875.3" y="4029.8"><tspan x="1875.3">2.组织学生分析期末成绩，总结经验，做好假</tspan><tspan x="1875.3" dy="15.3">期学习计划</tspan></text></g>
<g id="b4-5-15"><text class="t" x="1875.3" y="4097.3">3.结合学校安排，组织召开主题家长会</text></g>
<g id="b4-5-16"><text class="t" x="1875.3" y="4256.8">4.评优、假前教育</text></g>
<g id="b4-5-16-1"><text class="t" x="2003.1" y="4150.3"><tspan x="2003.1">初中的二年级下学期是学生最容易产生两极分</tspan><tspan x="2003.1" dy="15.3">化的年级，学生们对于学校的管理和教师的教</tspan><tspan x="2003.1" dy="15.3">学比较熟悉，容易产生散漫心理。这就更需要</tspan><tspan x="2003.1" dy="15.3">加强班级管理，明确管理目标，使学生顺利地</tspan><tspan x="2003.1" dy="15.3">完成本学期的学习目标。在德、智、体、美等</tspan><tspan x="2003.1" dy="15.3">几方面都得到充分的发展。</tspan></text></g>
<g id="b4-5-16-2"><text class="t" x="2003.1" y="4279"><tspan x="2003.1">以后的路究竟会怎么样，这是谁也无法知道的</tspan><tspan x="2003.1" dy="15.3">。前进中总是会有着各种各样的困难，不过我</tspan><tspan x="2003.1" dy="15.3">相信这是很简单的，我可以克服的困难，相信</tspan><tspan x="2003.1" dy="15.3">随着时间的不断的推移，我的班级会在我的带</tspan><tspan x="2003.1" dy="15.3">领下，走上正规，我可以做的更好。初二这一</tspan><tspan x="2003.1" dy="15.3">年极为重要，相信我的班级一定不会让我失望</tspan><tspan x="2003.1" dy="15.3">！</tspan></text></g>
</g>
</svg>
